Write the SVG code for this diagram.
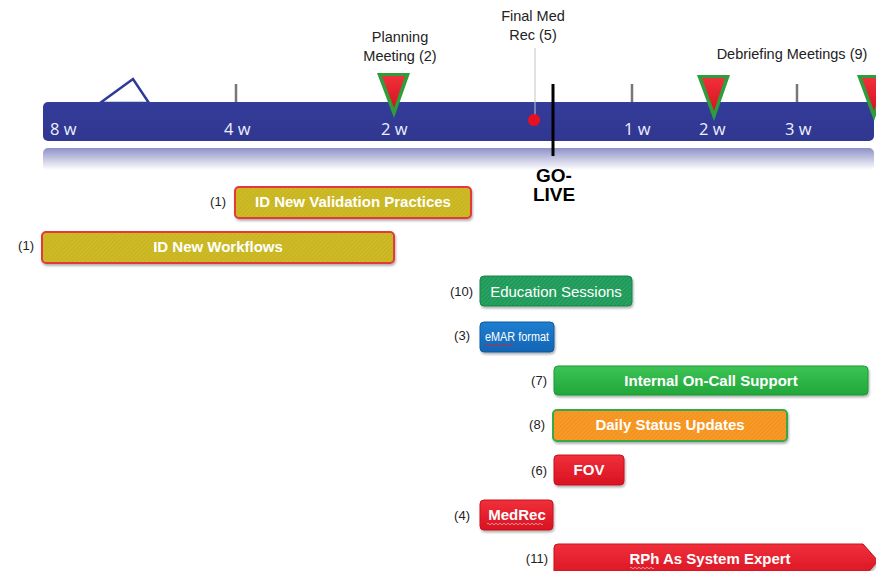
<svg xmlns="http://www.w3.org/2000/svg" width="876" height="571" viewBox="0 0 876 571">
<defs>
<style>
.lbl{font-family:"Liberation Sans",Arial,sans-serif;font-size:14.5px;fill:#222}
.num{font-family:"Liberation Sans",Arial,sans-serif;font-size:13px;fill:#222;text-anchor:end}
.wk{font-family:"Open Sans","Liberation Sans",sans-serif;font-size:16.5px;fill:#eef0ff}
.bt{font-family:"Liberation Sans",Arial,sans-serif;font-size:15px;font-weight:bold;fill:#fff;text-anchor:middle}
.btn{font-family:"Liberation Sans",Arial,sans-serif;font-size:15px;fill:#fff;text-anchor:middle}
.tick{stroke:#777;stroke-width:2.5}
</style>
<pattern id="hatch" width="3" height="3" patternUnits="userSpaceOnUse" patternTransform="rotate(45)">
<line x1="0" y1="0" x2="0" y2="3" stroke="#ffffff" stroke-opacity="0.2" stroke-width="1"/>
</pattern>
<linearGradient id="refl" x1="0" y1="0" x2="0" y2="1">
<stop offset="0" stop-color="#8e91c6"/>
<stop offset="1" stop-color="#ffffff"/>
</linearGradient>
<linearGradient id="tl" x1="0" y1="0" x2="0" y2="1">
<stop offset="0" stop-color="#343c9a"/>
<stop offset="1" stop-color="#2f378f"/>
</linearGradient>
<linearGradient id="red" x1="0" y1="0" x2="0" y2="1">
<stop offset="0" stop-color="#f0303a"/>
<stop offset="1" stop-color="#d81222"/>
</linearGradient>
<linearGradient id="grn" x1="0" y1="0" x2="0" y2="1">
<stop offset="0" stop-color="#3cc455"/>
<stop offset="1" stop-color="#22a63a"/>
</linearGradient>
<linearGradient id="blu" x1="0" y1="0" x2="0" y2="1">
<stop offset="0" stop-color="#1f7fd0"/>
<stop offset="1" stop-color="#1464b4"/>
</linearGradient>
<filter id="sh" x="-5%" y="-20%" width="110%" height="150%">
<feDropShadow dx="1" dy="2" stdDeviation="1.2" flood-color="#000" flood-opacity="0.3"/>
</filter>
</defs>

<g id="timeline">
<rect x="43" y="148" width="831" height="22" rx="5" fill="url(#refl)"/>
<line class="tick" x1="236" y1="84" x2="236" y2="103"/>
<line class="tick" x1="632" y1="84" x2="632" y2="103"/>
<line class="tick" x1="797" y1="84" x2="797" y2="103"/>
<polygon points="100,103 133,79 149,103" fill="none" stroke="#2e3a9a" stroke-width="2.5" stroke-linejoin="miter"/>
<rect x="43" y="102" width="831" height="39" rx="5" fill="url(#tl)"/>
<text class="wk" x="50" y="135">8 w</text>
<text class="wk" x="224" y="135">4 w</text>
<text class="wk" x="381" y="135">2 w</text>
<text class="wk" x="624" y="135">1 w</text>
<text class="wk" x="699" y="135">2 w</text>
<text class="wk" x="785" y="135">3 w</text>
</g>

<g id="planning-meeting">
<text class="lbl" x="400" y="42" text-anchor="middle">Planning</text>
<text class="lbl" x="400" y="61" text-anchor="middle">Meeting (2)</text>
<polygon points="377,73 410,73 394,118" fill="#2e9e3c"/>
<polygon points="382,76 405,76 394,108" fill="url(#red)"/>
</g>

<g id="final-med-rec">
<text class="lbl" x="533" y="21" text-anchor="middle">Final Med</text>
<text class="lbl" x="533" y="40" text-anchor="middle">Rec (5)</text>
<line x1="535" y1="48" x2="535" y2="116" stroke="#c4c4c4" stroke-width="1"/>
<circle cx="534" cy="120" r="6" fill="#e8101e"/>
</g>

<g id="go-live">
<line x1="553" y1="84" x2="553" y2="156" stroke="#000" stroke-width="3"/>
<text x="554" y="182" text-anchor="middle" font-family="Liberation Sans,Arial,sans-serif" font-size="19" font-weight="bold" fill="#000">GO-</text>
<text x="554" y="201" text-anchor="middle" font-family="Liberation Sans,Arial,sans-serif" font-size="19" font-weight="bold" fill="#000">LIVE</text>
</g>

<g id="debriefing-meetings">
<text class="lbl" x="792" y="59" text-anchor="middle">Debriefing Meetings (9)</text>
<polygon points="697,75 730,75 714,121" fill="#2e9e3c"/>
<polygon points="702,78 725,78 714,111" fill="url(#red)"/>
<polygon points="857,75 890,75 874,121" fill="#2e9e3c"/>
<polygon points="862,78 885,78 874,111" fill="url(#red)"/>
</g>

<g id="id-new-validation-practices">
<text class="num" x="226" y="206">(1)</text>
<rect x="235" y="187" width="236" height="31" rx="4" fill="#c9b51e" stroke="#e5383a" stroke-width="2" filter="url(#sh)"/>
<rect x="236" y="188" width="234" height="29" rx="3" fill="url(#hatch)"/>
<text class="bt" x="353" y="207">ID New Validation Practices</text>
</g>

<g id="id-new-workflows">
<text class="num" x="34" y="250">(1)</text>
<rect x="42" y="232" width="352" height="31" rx="4" fill="#c9b51e" stroke="#e5383a" stroke-width="2" filter="url(#sh)"/>
<rect x="43" y="233" width="350" height="29" rx="3" fill="url(#hatch)"/>
<text class="bt" x="218" y="252">ID New Workflows</text>
</g>

<g id="education-sessions">
<text class="num" x="473" y="296">(10)</text>
<rect x="480" y="276" width="152" height="30" rx="4" fill="#1e9a58" stroke="#17874a" stroke-width="1" filter="url(#sh)"/>
<rect x="481" y="277" width="150" height="28" rx="3" fill="url(#hatch)"/>
<text class="btn" x="556" y="297">Education Sessions</text>
</g>

<g id="emar-format">
<text class="num" x="470" y="340">(3)</text>
<rect x="480" y="322" width="74" height="30" rx="4" fill="url(#blu)" stroke="#0f5aa0" stroke-width="1" filter="url(#sh)"/>
<text x="517" y="341" text-anchor="middle" font-family="Liberation Sans Narrow,Liberation Sans,Arial,sans-serif" font-size="12" fill="#fff" textLength="64" lengthAdjust="spacingAndGlyphs">eMAR format</text>
<path d="M485,345 q1,-1.5 2,0 t2,0 t2,0 t2,0 t2,0 t2,0 t2,0 t2,0 t2,0 t2,0 t2,0 t2,0 t2,0 t2,0" fill="none" stroke="#e02020" stroke-width="0.8"/>
</g>

<g id="internal-on-call-support">
<text class="num" x="547" y="385">(7)</text>
<rect x="554" y="366" width="314" height="29" rx="4" fill="url(#grn)" stroke="#1c9a34" stroke-width="1" filter="url(#sh)"/>
<text class="bt" x="711" y="386">Internal On-Call Support</text>
</g>

<g id="daily-status-updates">
<text class="num" x="545" y="429">(8)</text>
<rect x="553" y="410" width="234" height="31" rx="4" fill="#f5931a" stroke="#39a84a" stroke-width="2" filter="url(#sh)"/>
<rect x="554" y="411" width="232" height="29" rx="3" fill="url(#hatch)"/>
<text class="bt" x="670" y="430">Daily Status Updates</text>
</g>

<g id="fov">
<text class="num" x="547" y="475">(6)</text>
<rect x="554" y="455" width="70" height="30" rx="4" fill="url(#red)" stroke="#c8101e" stroke-width="1" filter="url(#sh)"/>
<text class="bt" x="589" y="475">FOV</text>
</g>

<g id="medrec">
<text class="num" x="470" y="520">(4)</text>
<rect x="480" y="500" width="73" height="30" rx="4" fill="url(#red)" stroke="#c8101e" stroke-width="1" filter="url(#sh)"/>
<text class="bt" x="517" y="520">MedRec</text>
<path d="M487,524 q1,-1.5 2,0 t2,0 t2,0 t2,0 t2,0 t2,0 t2,0 t2,0 t2,0 t2,0 t2,0 t2,0 t2,0 t2,0 t2,0 t2,0 t2,0 t2,0 t2,0 t2,0 t2,0 t2,0 t2,0 t2,0 t2,0 t2,0 t2,0 t2,0" fill="none" stroke="#f4b0b0" stroke-width="0.8"/>
</g>

<g id="rph-as-system-expert">
<text class="num" x="548" y="563">(11)</text>
<path d="M558,544 L863,544 L878,561 L863,578 L558,578 Q554,578 554,574 L554,548 Q554,544 558,544 Z" fill="url(#red)" stroke="#c8101e" stroke-width="1" filter="url(#sh)"/>
<text class="bt" x="710" y="564">RPh As System Expert</text>
<path d="M630,568 q1,-1.5 2,0 t2,0 t2,0 t2,0 t2,0 t2,0 t2,0 t2,0 t2,0 t2,0 t2,0 t2,0" fill="none" stroke="#f4b0b0" stroke-width="0.8"/>
</g>

<g id="connectors"></g>
</svg>
